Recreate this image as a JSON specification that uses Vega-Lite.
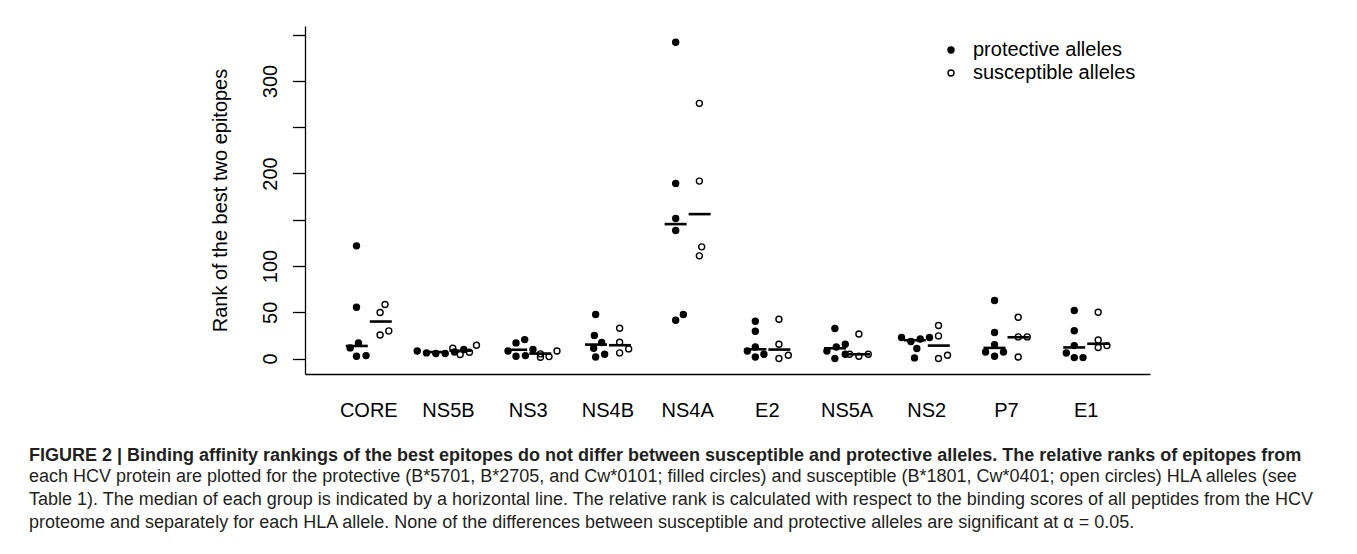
{
  "$schema": "https://vega.github.io/schema/vega-lite/v6.json",
  "autosize": "none",
  "padding": {"left": 305, "top": 26, "right": 207, "bottom": 180},
  "width": 845,
  "height": 348,
  "background": "white",
  "config": {"view": {"stroke": null}, "font": "Liberation Sans"},
  "title": {
    "text": "FIGURE 2 | Binding affinity rankings of the best epitopes do not differ between susceptible and protective alleles. The relative ranks of epitopes from",
    "subtitle": [
      "each HCV protein are plotted for the protective (B*5701, B*2705, and Cw*0101; filled circles) and susceptible (B*1801, Cw*0401; open circles) HLA alleles (see",
      "Table 1). The median of each group is indicated by a horizontal line. The relative rank is calculated with respect to the binding scores of all peptides from the HCV",
      "proteome and separately for each HLA allele. None of the differences between susceptible and protective alleles are significant at α = 0.05."
    ],
    "orient": "bottom",
    "anchor": "start",
    "frame": "group",
    "dx": -276,
    "offset": 27,
    "font": "Liberation Sans",
    "fontSize": 18,
    "fontWeight": "bold",
    "color": "#231f20",
    "subtitleFont": "Liberation Sans",
    "subtitleFontSize": 18,
    "subtitleFontWeight": "normal",
    "subtitleColor": "#231f20",
    "subtitleLineHeight": 23,
    "subtitlePadding": 3,
    "limit": 1400
  },
  "datasets": {
    "points": [
      {"protein": "CORE", "group": "protective alleles", "rank": 121.8, "dx": -0.154},
      {"protein": "CORE", "group": "protective alleles", "rank": 55.5, "dx": -0.154},
      {"protein": "CORE", "group": "protective alleles", "rank": 16.9, "dx": -0.129},
      {"protein": "CORE", "group": "protective alleles", "rank": 11.5, "dx": -0.234},
      {"protein": "CORE", "group": "protective alleles", "rank": 2.5, "dx": -0.154},
      {"protein": "CORE", "group": "protective alleles", "rank": 3.2, "dx": -0.034},
      {"protein": "CORE", "group": "susceptible alleles", "rank": 58.4, "dx": 0.204},
      {"protein": "CORE", "group": "susceptible alleles", "rank": 49.8, "dx": 0.142},
      {"protein": "CORE", "group": "susceptible alleles", "rank": 25.5, "dx": 0.142},
      {"protein": "CORE", "group": "susceptible alleles", "rank": 29.9, "dx": 0.251},
      {"protein": "NS5B", "group": "protective alleles", "rank": 8.2, "dx": -0.392},
      {"protein": "NS5B", "group": "protective alleles", "rank": 6.1, "dx": -0.276},
      {"protein": "NS5B", "group": "protective alleles", "rank": 5.4, "dx": -0.159},
      {"protein": "NS5B", "group": "protective alleles", "rank": 5.4, "dx": -0.041},
      {"protein": "NS5B", "group": "protective alleles", "rank": 7.0, "dx": 0.075},
      {"protein": "NS5B", "group": "protective alleles", "rank": 9.7, "dx": 0.192},
      {"protein": "NS5B", "group": "susceptible alleles", "rank": 11.1, "dx": 0.054},
      {"protein": "NS5B", "group": "susceptible alleles", "rank": 4.3, "dx": 0.147},
      {"protein": "NS5B", "group": "susceptible alleles", "rank": 6.8, "dx": 0.263},
      {"protein": "NS5B", "group": "susceptible alleles", "rank": 14.4, "dx": 0.351},
      {"protein": "NS3", "group": "protective alleles", "rank": 8.2, "dx": -0.253},
      {"protein": "NS3", "group": "protective alleles", "rank": 16.9, "dx": -0.153},
      {"protein": "NS3", "group": "protective alleles", "rank": 2.5, "dx": -0.153},
      {"protein": "NS3", "group": "protective alleles", "rank": 20.5, "dx": -0.044},
      {"protein": "NS3", "group": "protective alleles", "rank": 3.2, "dx": -0.035},
      {"protein": "NS3", "group": "protective alleles", "rank": 9.7, "dx": 0.06},
      {"protein": "NS3", "group": "susceptible alleles", "rank": 1.4, "dx": 0.153},
      {"protein": "NS3", "group": "susceptible alleles", "rank": 2.1, "dx": 0.261},
      {"protein": "NS3", "group": "susceptible alleles", "rank": 8.2, "dx": 0.361},
      {"protein": "NS3", "group": "susceptible alleles", "rank": 5.0, "dx": 0.153},
      {"protein": "NS4B", "group": "protective alleles", "rank": 47.6, "dx": -0.154},
      {"protein": "NS4B", "group": "protective alleles", "rank": 24.9, "dx": -0.17},
      {"protein": "NS4B", "group": "protective alleles", "rank": 17.3, "dx": -0.078},
      {"protein": "NS4B", "group": "protective alleles", "rank": 11.1, "dx": -0.179},
      {"protein": "NS4B", "group": "protective alleles", "rank": 1.7, "dx": -0.154},
      {"protein": "NS4B", "group": "protective alleles", "rank": 4.6, "dx": -0.041},
      {"protein": "NS4B", "group": "susceptible alleles", "rank": 32.8, "dx": 0.147},
      {"protein": "NS4B", "group": "susceptible alleles", "rank": 17.6, "dx": 0.147},
      {"protein": "NS4B", "group": "susceptible alleles", "rank": 6.1, "dx": 0.147},
      {"protein": "NS4B", "group": "susceptible alleles", "rank": 10.4, "dx": 0.26},
      {"protein": "NS4A", "group": "protective alleles", "rank": 341.8, "dx": -0.15},
      {"protein": "NS4A", "group": "protective alleles", "rank": 189.3, "dx": -0.15},
      {"protein": "NS4A", "group": "protective alleles", "rank": 151.4, "dx": -0.15},
      {"protein": "NS4A", "group": "protective alleles", "rank": 138.4, "dx": -0.15},
      {"protein": "NS4A", "group": "protective alleles", "rank": 41.4, "dx": -0.15},
      {"protein": "NS4A", "group": "protective alleles", "rank": 47.6, "dx": -0.054},
      {"protein": "NS4A", "group": "susceptible alleles", "rank": 275.8, "dx": 0.147},
      {"protein": "NS4A", "group": "susceptible alleles", "rank": 191.8, "dx": 0.147},
      {"protein": "NS4A", "group": "susceptible alleles", "rank": 120.7, "dx": 0.176},
      {"protein": "NS4A", "group": "susceptible alleles", "rank": 111.0, "dx": 0.147},
      {"protein": "E2", "group": "protective alleles", "rank": 40.3, "dx": -0.151},
      {"protein": "E2", "group": "protective alleles", "rank": 29.5, "dx": -0.151},
      {"protein": "E2", "group": "protective alleles", "rank": 12.5, "dx": -0.151},
      {"protein": "E2", "group": "protective alleles", "rank": 8.2, "dx": -0.251},
      {"protein": "E2", "group": "protective alleles", "rank": 1.7, "dx": -0.151},
      {"protein": "E2", "group": "protective alleles", "rank": 4.6, "dx": -0.043},
      {"protein": "E2", "group": "susceptible alleles", "rank": 42.5, "dx": 0.145},
      {"protein": "E2", "group": "susceptible alleles", "rank": 15.5, "dx": 0.145},
      {"protein": "E2", "group": "susceptible alleles", "rank": 0.0, "dx": 0.145},
      {"protein": "E2", "group": "susceptible alleles", "rank": 3.6, "dx": 0.263},
      {"protein": "NS5A", "group": "protective alleles", "rank": 32.4, "dx": -0.153},
      {"protein": "NS5A", "group": "protective alleles", "rank": 8.2, "dx": -0.253},
      {"protein": "NS5A", "group": "protective alleles", "rank": 12.5, "dx": -0.135},
      {"protein": "NS5A", "group": "protective alleles", "rank": 15.5, "dx": -0.023},
      {"protein": "NS5A", "group": "protective alleles", "rank": 0.0, "dx": -0.153},
      {"protein": "NS5A", "group": "protective alleles", "rank": 4.6, "dx": -0.023},
      {"protein": "NS5A", "group": "susceptible alleles", "rank": 26.6, "dx": 0.148},
      {"protein": "NS5A", "group": "susceptible alleles", "rank": 4.6, "dx": 0.031},
      {"protein": "NS5A", "group": "susceptible alleles", "rank": 2.5, "dx": 0.148},
      {"protein": "NS5A", "group": "susceptible alleles", "rank": 4.6, "dx": 0.266},
      {"protein": "NS2", "group": "protective alleles", "rank": 22.7, "dx": -0.317},
      {"protein": "NS2", "group": "protective alleles", "rank": 18.4, "dx": -0.2},
      {"protein": "NS2", "group": "protective alleles", "rank": 21.2, "dx": -0.082},
      {"protein": "NS2", "group": "protective alleles", "rank": 22.7, "dx": 0.034},
      {"protein": "NS2", "group": "protective alleles", "rank": 10.8, "dx": -0.125},
      {"protein": "NS2", "group": "protective alleles", "rank": 0.7, "dx": -0.154},
      {"protein": "NS2", "group": "susceptible alleles", "rank": 35.7, "dx": 0.147},
      {"protein": "NS2", "group": "susceptible alleles", "rank": 24.5, "dx": 0.147},
      {"protein": "NS2", "group": "susceptible alleles", "rank": 0.0, "dx": 0.147},
      {"protein": "NS2", "group": "susceptible alleles", "rank": 3.6, "dx": 0.26},
      {"protein": "P7", "group": "protective alleles", "rank": 62.7, "dx": -0.15},
      {"protein": "P7", "group": "protective alleles", "rank": 28.1, "dx": -0.15},
      {"protein": "P7", "group": "protective alleles", "rank": 15.1, "dx": -0.15},
      {"protein": "P7", "group": "protective alleles", "rank": 7.1, "dx": -0.263},
      {"protein": "P7", "group": "protective alleles", "rank": 2.5, "dx": -0.15},
      {"protein": "P7", "group": "protective alleles", "rank": 7.1, "dx": -0.038},
      {"protein": "P7", "group": "susceptible alleles", "rank": 44.7, "dx": 0.147},
      {"protein": "P7", "group": "susceptible alleles", "rank": 23.4, "dx": 0.147},
      {"protein": "P7", "group": "susceptible alleles", "rank": 1.7, "dx": 0.147},
      {"protein": "P7", "group": "susceptible alleles", "rank": 23.4, "dx": 0.26},
      {"protein": "E1", "group": "protective alleles", "rank": 52, "dx": -0.15},
      {"protein": "E1", "group": "protective alleles", "rank": 30, "dx": -0.15},
      {"protein": "E1", "group": "protective alleles", "rank": 14, "dx": -0.15},
      {"protein": "E1", "group": "protective alleles", "rank": 6, "dx": -0.25},
      {"protein": "E1", "group": "protective alleles", "rank": 1, "dx": -0.15},
      {"protein": "E1", "group": "protective alleles", "rank": 1, "dx": -0.04},
      {"protein": "E1", "group": "susceptible alleles", "rank": 50, "dx": 0.15},
      {"protein": "E1", "group": "susceptible alleles", "rank": 20, "dx": 0.15},
      {"protein": "E1", "group": "susceptible alleles", "rank": 12, "dx": 0.15},
      {"protein": "E1", "group": "susceptible alleles", "rank": 14, "dx": 0.26}
    ],
    "medians": [
      {"protein": "CORE", "group": "protective alleles", "median": 13.6},
      {"protein": "CORE", "group": "susceptible alleles", "median": 40},
      {"protein": "NS5B", "group": "protective alleles", "median": 7},
      {"protein": "NS5B", "group": "susceptible alleles", "median": 8.5},
      {"protein": "NS3", "group": "protective alleles", "median": 9.5},
      {"protein": "NS3", "group": "susceptible alleles", "median": 5.4},
      {"protein": "NS4B", "group": "protective alleles", "median": 15.1},
      {"protein": "NS4B", "group": "susceptible alleles", "median": 14.4},
      {"protein": "NS4A", "group": "protective alleles", "median": 145.3},
      {"protein": "NS4A", "group": "susceptible alleles", "median": 156.1},
      {"protein": "E2", "group": "protective alleles", "median": 10},
      {"protein": "E2", "group": "susceptible alleles", "median": 9.7},
      {"protein": "NS5A", "group": "protective alleles", "median": 11.1},
      {"protein": "NS5A", "group": "susceptible alleles", "median": 4.6},
      {"protein": "NS2", "group": "protective alleles", "median": 19.8},
      {"protein": "NS2", "group": "susceptible alleles", "median": 14},
      {"protein": "P7", "group": "protective alleles", "median": 11.5},
      {"protein": "P7", "group": "susceptible alleles", "median": 23},
      {"protein": "E1", "group": "protective alleles", "median": 12},
      {"protein": "E1", "group": "susceptible alleles", "median": 16}
    ]
  },
  "encoding": {
    "x": {
      "field": "protein",
      "type": "nominal",
      "sort": ["CORE", "NS5B", "NS3", "NS4B", "NS4A", "E2", "NS5A", "NS2", "P7", "E1"],
      "scale": {"paddingInner": 0, "paddingOuter": 0.3},
      "axis": {
        "title": null,
        "ticks": false,
        "labelAngle": 0,
        "labelFontSize": 20,
        "labelColor": "black",
        "labelPadding": 26,
        "domainColor": "black",
        "domainWidth": 1.3,
        "grid": false
      }
    }
  },
  "layer": [
    {
      "data": {"name": "points"},
      "mark": {"type": "point", "shape": "circle", "filled": true, "size": 36, "stroke": "black", "strokeWidth": 1.4, "opacity": 1},
      "encoding": {
        "xOffset": {"field": "dx", "type": "quantitative", "scale": {"domain": [-0.5, 0.5]}},
        "y": {
          "field": "rank",
          "type": "quantitative",
          "title": "Rank of the best two epitopes",
          "scale": {"domain": [-16.7, 359.4], "nice": false, "zero": false},
          "axis": {
            "values": [0, 50, 100, 150, 200, 250, 300, 350],
            "labelExpr": "datum.value == 150 || datum.value == 250 || datum.value == 350 ? '' : datum.label",
            "labelAngle": 270,
            "labelAlign": "center",
            "labelBaseline": "alphabetic",
            "labelPadding": 16,
            "labelFontSize": 20,
            "labelColor": "black",
            "tickSize": 12.6,
            "tickColor": "black",
            "tickWidth": 1.3,
            "domainColor": "black",
            "domainWidth": 1.3,
            "grid": false,
            "titleFontSize": 20,
            "titleFontWeight": "normal",
            "titleColor": "black",
            "titlePadding": 30
          }
        },
        "fill": {
          "field": "group",
          "type": "nominal",
          "scale": {"domain": ["protective alleles", "susceptible alleles"], "range": ["black", "transparent"]},
          "legend": {
            "title": null,
            "orient": "top-right",
            "offset": 14,
            "labelFontSize": 20,
            "labelColor": "black",
            "labelLimit": 400,
            "symbolType": "circle",
            "symbolSize": 36,
            "symbolStrokeColor": "black",
            "symbolStrokeWidth": 1.4,
            "labelOffset": 12,
            "rowPadding": 3
          }
        }
      }
    },
    {
      "data": {"name": "medians"},
      "mark": {"type": "tick", "color": "black", "thickness": 2.6, "size": 22, "opacity": 1},
      "encoding": {
        "xOffset": {"field": "group", "type": "nominal", "scale": {"domain": ["protective alleles", "susceptible alleles"], "paddingInner": 0, "paddingOuter": 0.66}},
        "y": {"field": "median", "type": "quantitative"}
      }
    }
  ],
  "resolve": {"scale": {"xOffset": "independent"}}
}
